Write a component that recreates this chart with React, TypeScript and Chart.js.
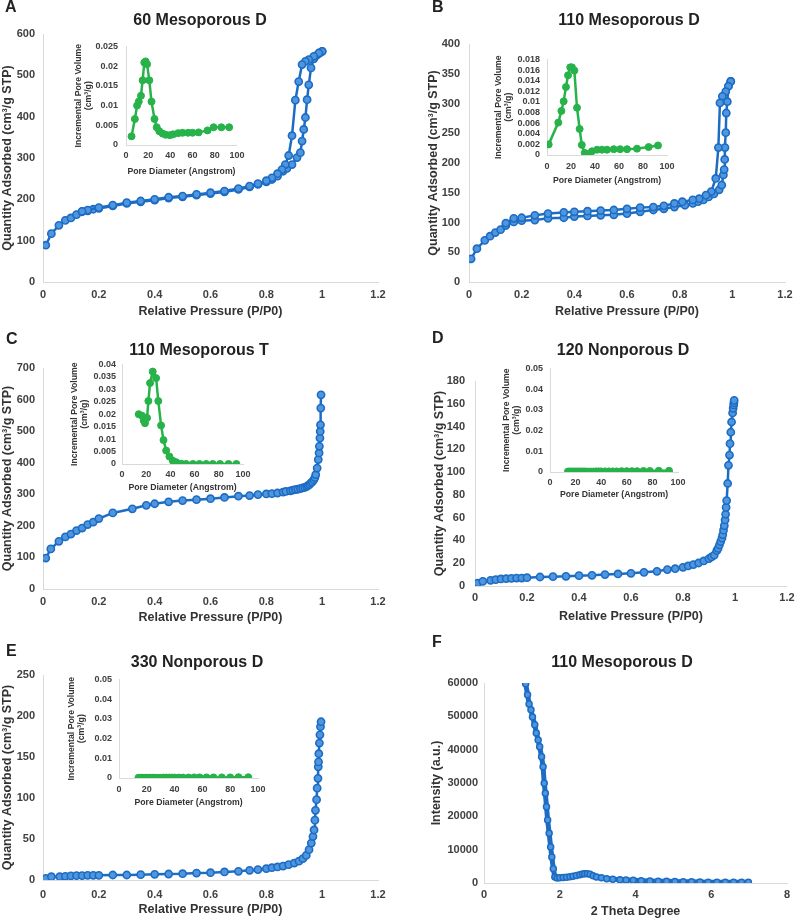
import React, { useEffect, useRef } from 'react';
import { Chart, registerables } from 'chart.js';
Chart.register(...registerables);

const FONT = '"Liberation Sans", Arial, Helvetica, sans-serif';
const BLUE = '#1c6cc4';
const BLUE_FILL = '#4f96de';
const GREEN = '#27b24a';
const AXIS = '#d9d9d9';
const TEXT = '#333333';

// ---------- Tick labels ----------
const P_TICKS = [0, 0.2, 0.4, 0.6, 0.8, 1, 1.2];
const PORE_TICKS = [0, 20, 40, 60, 80, 100];
const A_Y_TICKS = [0, 100, 200, 300, 400, 500, 600];
const B_Y_TICKS = [0, 50, 100, 150, 200, 250, 300, 350, 400];
const C_Y_TICKS = [0, 100, 200, 300, 400, 500, 600, 700];
const D_Y_TICKS = [0, 20, 40, 60, 80, 100, 120, 140, 160, 180];
const E_Y_TICKS = [0, 50, 100, 150, 200, 250];
const F_X_TICKS = [0, 2, 4, 6, 8];
const F_Y_TICKS = [0, 10000, 20000, 30000, 40000, 50000, 60000];
const A_IN_Y_TICKS = [0, 0.005, 0.01, 0.015, 0.02, 0.025];
const B_IN_Y_TICKS = [0, 0.002, 0.004, 0.006, 0.008, 0.01, 0.012, 0.014, 0.016, 0.018];
const C_IN_Y_TICKS = [0, 0.005, 0.01, 0.015, 0.02, 0.025, 0.03, 0.035, 0.04];
const DE_IN_Y_TICKS = [0, 0.01, 0.02, 0.03, 0.04, 0.05];

// ---------- A: 60 Mesoporous D ----------
const A_ADS_P = [0.01, 0.03, 0.057, 0.08, 0.1, 0.12, 0.14, 0.16, 0.18, 0.2, 0.25, 0.3, 0.35, 0.4, 0.45, 0.5, 0.55, 0.6, 0.65, 0.7, 0.74, 0.77, 0.8, 0.82, 0.84, 0.86, 0.874, 0.892, 0.91, 0.922, 0.928, 0.934, 0.94, 0.946, 0.952, 0.96, 0.97, 0.98, 0.99, 1.0];
const A_ADS_V = [89, 117, 137, 149, 155, 163, 170, 172, 176, 178, 184, 190, 194, 198, 203, 206, 210, 214, 218, 224, 230, 236, 242, 248, 256, 268, 275, 284, 301, 313, 341, 369, 398, 441, 477, 518, 540, 548, 553, 558];
const A_DES_P = [1.0, 0.988, 0.97, 0.952, 0.94, 0.928, 0.916, 0.904, 0.892, 0.88, 0.868, 0.856, 0.84, 0.82, 0.8, 0.77, 0.74, 0.7, 0.65, 0.6, 0.55, 0.5, 0.45, 0.4, 0.35, 0.3, 0.25, 0.2, 0.16, 0.14];
const A_DES_V = [558, 554, 546, 538, 534, 526, 485, 440, 354, 306, 284, 272, 262, 252, 245, 238, 232, 226, 220, 216, 212, 208, 205, 200, 196, 192, 186, 180, 174, 171];
const A_PORE_D = [5, 8, 10, 11.5, 13.5, 15, 16.5, 17.7, 19, 21, 23, 25.7, 27.7, 30, 33, 35.7, 39.5, 42.5, 47, 51, 56, 60, 65.5, 73.5, 79, 86, 93];
const A_PORE_V = [0.0022, 0.0066, 0.01, 0.011, 0.0125, 0.0164, 0.0209, 0.0212, 0.0205, 0.0164, 0.011, 0.0066, 0.0045, 0.0035, 0.0029, 0.0026, 0.0025, 0.0027, 0.003, 0.0031, 0.0031, 0.0031, 0.0032, 0.0037, 0.0045, 0.0045, 0.0045];

// ---------- B: 110 Mesoporous D ----------
const B_ADS_P = [0.008, 0.03, 0.06, 0.08, 0.1, 0.12, 0.14, 0.17, 0.2, 0.25, 0.3, 0.36, 0.4, 0.45, 0.5, 0.55, 0.6, 0.65, 0.7, 0.74, 0.78, 0.82, 0.85, 0.87, 0.89, 0.91, 0.93, 0.95, 0.96, 0.966, 0.969, 0.971, 0.972, 0.975, 0.977, 0.981, 0.985, 0.994];
const B_ADS_V = [39, 56, 70, 77, 83, 88, 95, 101, 103, 104, 107, 108, 110, 111, 112, 113, 115, 118, 121, 123, 126, 129, 132, 135, 138, 143, 148, 155, 163, 180, 189, 206, 226, 251, 284, 303, 329, 337];
const B_DES_P = [0.994, 0.985, 0.975, 0.962, 0.953, 0.947, 0.937, 0.92, 0.9, 0.874, 0.85, 0.81, 0.78, 0.74, 0.7, 0.65, 0.6, 0.55, 0.5, 0.45, 0.4, 0.36, 0.3, 0.25, 0.2, 0.17, 0.14];
const B_DES_V = [337, 329, 320, 312, 301, 226, 174, 152, 146, 140, 138, 135, 132, 128, 126, 125, 123, 121, 120, 119, 118, 117, 115, 112, 108, 107, 99];
const B_PORE_D = [1.4, 9.4, 12, 13.9, 15.8, 17.5, 19.4, 20.8, 22.8, 25, 27.2, 29, 31.4, 34.7, 37.5, 41.7, 45.8, 50, 55.6, 61, 66.7, 75, 84.7, 92.5];
const B_PORE_V = [0.002, 0.0061, 0.0083, 0.0101, 0.0128, 0.015, 0.0165, 0.0165, 0.0159, 0.0089, 0.0049, 0.0019, 0.0004, 0.0002, 0.0007, 0.001, 0.001, 0.001, 0.0011, 0.0011, 0.0011, 0.0012, 0.0015, 0.0018];

// ---------- C: 110 Mesoporous T ----------
const C_P = [0.01, 0.028, 0.057, 0.08, 0.1, 0.12, 0.14, 0.16, 0.18, 0.2, 0.25, 0.32, 0.37, 0.4, 0.45, 0.5, 0.55, 0.6, 0.65, 0.7, 0.74, 0.77, 0.8, 0.82, 0.84, 0.86, 0.87, 0.886, 0.895, 0.904, 0.913, 0.922, 0.93, 0.938, 0.945, 0.95, 0.955, 0.96, 0.965, 0.97, 0.974, 0.977, 0.982, 0.986, 0.989, 0.99, 0.992, 0.993, 0.994, 0.995, 0.996];
const C_V = [98, 127, 151, 165, 174, 185, 193, 204, 212, 223, 241, 254, 265, 270, 276, 280, 283, 286, 290, 294, 296, 299, 301, 302, 304, 307, 309, 311, 313, 315, 316, 318, 320, 322, 325, 328, 331, 336, 340, 346, 353, 362, 383, 410, 431, 452, 478, 499, 520, 573, 615];
const C_PORE_D = [13.8, 16.6, 18, 19, 20.7, 21.8, 23.2, 25.4, 28.2, 30, 32.3, 34.3, 36.5, 39.2, 42, 44.8, 49, 53, 58.6, 64, 69.6, 75, 81, 88, 94.5];
const C_PORE_V = [0.02, 0.0194, 0.0174, 0.0164, 0.0185, 0.0253, 0.0325, 0.0371, 0.0345, 0.0253, 0.0155, 0.0096, 0.0054, 0.003, 0.0013, 0.0007, 0.0001, 0, 0, 0, 0, 0, 0, 0, 0];

// ---------- D: 120 Nonporous D ----------
const D_P = [0.01, 0.03, 0.06, 0.08, 0.1, 0.12, 0.14, 0.16, 0.18, 0.2, 0.25, 0.3, 0.35, 0.4, 0.45, 0.5, 0.55, 0.6, 0.65, 0.7, 0.74, 0.77, 0.8, 0.82, 0.84, 0.86, 0.88, 0.9, 0.91, 0.92, 0.93, 0.935, 0.94, 0.945, 0.95, 0.953, 0.956, 0.959, 0.962, 0.964, 0.966, 0.968, 0.972, 0.975, 0.979, 0.981, 0.984, 0.987, 0.991, 0.993, 0.995, 0.996, 0.997];
const D_V = [2.6, 4.1, 5, 5.6, 6.2, 6.4, 6.7, 7, 7, 7.3, 7.9, 8.2, 8.5, 9.1, 9.4, 10, 10.6, 11.1, 12, 12.9, 14.4, 15.2, 16.4, 17.6, 18.8, 20.2, 22, 24, 25.5, 27, 31, 33, 36, 39, 42, 45, 49, 53, 58, 63, 69, 75, 90, 106, 115, 125, 135, 144, 152, 156, 159, 161, 163];
const D_PORE_D = [14, 15, 16, 17, 18, 19, 20, 21, 22, 23, 24, 25, 26, 27, 28, 30, 32, 34, 36, 38, 40, 43, 46, 49, 52, 56, 60, 64, 68, 73, 78, 85, 93];
const D_PORE_V = [0.0002, 0.0002, 0.0002, 0.0002, 0.0002, 0.0002, 0.0002, 0.0002, 0.0002, 0.0002, 0.0002, 0.0002, 0.0002, 0.0002, 0.0002, 0.0002, 0.0002, 0.0002, 0.0003, 0.0003, 0.0003, 0.0003, 0.0003, 0.0003, 0.0003, 0.0004, 0.0004, 0.0004, 0.0004, 0.0005, 0.0005, 0.0006, 0.0006];

// ---------- E: 330 Nonporous D ----------
const E_P = [0.01, 0.03, 0.06, 0.08, 0.1, 0.12, 0.14, 0.16, 0.18, 0.2, 0.25, 0.3, 0.35, 0.4, 0.45, 0.5, 0.55, 0.6, 0.65, 0.7, 0.74, 0.77, 0.8, 0.82, 0.84, 0.86, 0.88, 0.9, 0.917, 0.931, 0.943, 0.953, 0.961, 0.967, 0.971, 0.974, 0.976, 0.98, 0.982, 0.985, 0.986, 0.987, 0.988, 0.99, 0.992, 0.994, 0.996];
const E_V = [2, 4, 4, 4.5, 5, 5.3, 5.3, 5.7, 5.7, 5.7, 6.1, 6.1, 6.5, 6.9, 7.3, 7.7, 8.5, 8.9, 9.8, 10.6, 11.8, 12.6, 13.8, 15, 15.9, 17, 18.7, 20.7, 23, 26, 30, 37, 45, 53, 61, 73, 85, 98, 112, 124, 138, 144, 154, 167, 177, 187, 193];
const E_PORE_D = [14, 15, 16, 17, 18, 19, 20, 21, 22, 23, 24, 25, 26, 28, 30, 32, 34, 36, 38, 40, 43, 46, 50, 54, 58, 63, 68, 74, 80, 86, 93];
const E_PORE_V = [0.0001, 0.0001, 0.0001, 0.0001, 0.0001, 0.0001, 0.0001, 0.0001, 0.0001, 0.0001, 0.0001, 0.0001, 0.0001, 0.0001, 0.0001, 0.0002, 0.0002, 0.0002, 0.0002, 0.0002, 0.0002, 0.0002, 0.0002, 0.0003, 0.0003, 0.0003, 0.0003, 0.0003, 0.0003, 0.0004, 0.0004];

// ---------- F: 110 Mesoporous D, XRD ----------
const F_THETA = [1.1, 1.15, 1.19, 1.24, 1.28, 1.34, 1.38, 1.43, 1.47, 1.52, 1.56, 1.59, 1.62, 1.65, 1.68, 1.72, 1.76, 1.79, 1.83, 1.87, 1.93, 2.0, 2.09, 2.18, 2.27, 2.35, 2.44, 2.53, 2.6, 2.66, 2.73, 2.8, 2.88, 2.97, 3.1, 3.24, 3.4, 3.59, 3.75, 3.94, 4.15, 4.38, 4.6, 4.82, 5.04, 5.26, 5.48, 5.7, 5.92, 6.15, 6.37, 6.59, 6.8, 6.98];
const F_INT = [59800, 56500, 53700, 52000, 49800, 47500, 45000, 42900, 40900, 37900, 34900, 29900, 26900, 22900, 18900, 14900, 10800, 7800, 4300, 1800, 1500, 1600, 1650, 1700, 1850, 2000, 2250, 2500, 2700, 2800, 2750, 2600, 2200, 1800, 1550, 1300, 1150, 1000, 900, 800, 700, 600, 550, 500, 450, 400, 350, 300, 250, 200, 200, 200, 200, 200];

const Y_MAIN = 'Quantity Adsorbed (cm\u00B3/g STP)';
const X_MAIN = 'Relative Pressure (P/P0)';
const Y_INSET = ['Incremental Pore Volume', '(cm\u00B3/g)'];
const X_INSET = 'Pore Diameter (Angstrom)';

const zip = (xs: number[], ys: number[]) => xs.map((x, i) => ({ x, y: ys[i] }));
const fmt = (v: number) => String(parseFloat(Number(v).toFixed(5)));

type Series = { data: { x: number; y: number }[]; kind: 'main' | 'inset' | 'xrd' };
type Spec = {
  canvas: number[];
  area: number[];
  xRange: number[];
  yRange: number[];
  xTicks: number[];
  yTicks: number[];
  xTitle: string;
  yTitle: string | string[];
  yTickRight: number;
  xTickY: number;
  yTitleX: number;
  xTitleY: number;
  series: Series[];
  inset?: boolean;
  letter?: string;
  letterPos?: number[];
  title?: string;
  titlePos?: number[];
};

const panelText = {
  id: 'panelText',
  afterDraw(chart: any, _args: any, opts: any) {
    if (!opts || !opts.letter) return;
    const ctx = chart.ctx;
    ctx.save();
    ctx.fillStyle = '#222222';
    ctx.textBaseline = 'middle';
    ctx.font = `bold 16px ${FONT}`;
    ctx.textAlign = 'left';
    ctx.fillText(opts.letter, opts.lx, opts.ly);
    ctx.font = `bold 16px ${FONT}`;
    ctx.textAlign = 'center';
    ctx.fillText(opts.title, opts.tx, opts.ty);
    ctx.restore();
  },
};

function dataset(s: Series) {
  if (s.kind === 'inset') {
    return {
      data: s.data, borderColor: GREEN, borderWidth: 2.5, pointRadius: 3.5,
      pointBackgroundColor: GREEN, pointBorderColor: GREEN, pointBorderWidth: 1,
      tension: 0, showLine: true,
    };
  }
  if (s.kind === 'xrd') {
    return {
      data: s.data, borderColor: BLUE, borderWidth: 5, pointRadius: 3,
      pointBackgroundColor: BLUE_FILL, pointBorderColor: BLUE, pointBorderWidth: 1.5,
      tension: 0, showLine: true,
    };
  }
  return {
    data: s.data, borderColor: BLUE, borderWidth: 2.5, pointRadius: 3.6,
    pointBackgroundColor: BLUE_FILL, pointBorderColor: BLUE, pointBorderWidth: 1.6,
    tension: 0, showLine: true,
  };
}

function buildConfig(p: Spec): any {
  const [cx, cy, cw, ch] = p.canvas;
  const [L, T, R, B] = p.area;
  const tickSize = p.inset ? 9 : 11;
  const titleSize = p.inset ? 8.7 : 12.5;
  const titleLH = p.inset ? 1.15 : 1.1;
  const tickLH = tickSize * 1.2;
  const tLH = titleSize * titleLH;
  const tickFont = { family: FONT, size: tickSize, weight: 'bold', lineHeight: 1.2 };
  const titleFont = { family: FONT, size: titleSize, weight: 'bold', lineHeight: titleLH };
  const yTitlePad = Math.max(0, p.yTitleX - cx - tLH / 2);
  const xTitlePad = Math.max(0, cy + ch - p.xTitleY - tLH / 2);
  return {
    type: 'line',
    data: { datasets: p.series.map(dataset) },
    plugins: [panelText],
    options: {
      responsive: false,
      animation: false,
      devicePixelRatio: 1,
      events: [],
      layout: { padding: { left: 0, top: T - cy, right: cx + cw - R, bottom: 0 } },
      plugins: {
        legend: { display: false },
        tooltip: { enabled: false },
        panelText: p.letter
          ? {
              letter: p.letter,
              lx: p.letterPos![0] - cx,
              ly: p.letterPos![1] - cy,
              title: p.title,
              tx: p.titlePos![0] - cx,
              ty: p.titlePos![1] - cy,
            }
          : {},
      },
      scales: {
        x: {
          type: 'linear',
          min: p.xRange[0],
          max: p.xRange[1],
          afterBuildTicks: (s: any) => { s.ticks = p.xTicks.map((v) => ({ value: v })); },
          afterFit: (s: any) => { s.height = cy + ch - B; },
          grid: { display: false, drawTicks: false, tickLength: 0 },
          border: { display: true, color: AXIS, width: 1 },
          ticks: {
            font: tickFont, color: '#404040', padding: p.xTickY - B - tickLH / 2,
            maxRotation: 0, autoSkip: false, callback: (v: any) => fmt(v),
          },
          title: { display: true, text: p.xTitle, font: titleFont, color: TEXT, padding: { top: 0, bottom: xTitlePad } },
        },
        y: {
          type: 'linear',
          min: p.yRange[0],
          max: p.yRange[1],
          afterBuildTicks: (s: any) => { s.ticks = p.yTicks.map((v) => ({ value: v })); },
          afterFit: (s: any) => { s.width = L - cx; },
          grid: { display: false, drawTicks: false, tickLength: 0 },
          border: { display: true, color: AXIS, width: 1 },
          ticks: {
            font: tickFont, color: '#404040', padding: L - p.yTickRight,
            autoSkip: false, callback: (v: any) => fmt(v),
          },
          title: { display: true, text: p.yTitle, font: titleFont, color: TEXT, padding: { top: yTitlePad, bottom: 0 } },
        },
      },
    },
  };
}

const PANELS: Spec[] = [
  {
    canvas: [0, 0, 400, 322], area: [43, 34, 378, 282], xRange: [0, 1.2], yRange: [0, 600],
    xTicks: P_TICKS, yTicks: A_Y_TICKS, xTitle: X_MAIN, yTitle: Y_MAIN,
    yTickRight: 35, xTickY: 295, yTitleX: 8, xTitleY: 312,
    series: [{ data: zip(A_DES_P, A_DES_V), kind: 'main' }, { data: zip(A_ADS_P, A_ADS_V), kind: 'main' }],
    letter: 'A', letterPos: [5, 8], title: '60 Mesoporous D', titlePos: [200, 21],
  },
  {
    canvas: [400, 0, 400, 322], area: [469, 44, 785, 282], xRange: [0, 1.2], yRange: [0, 400],
    xTicks: P_TICKS, yTicks: B_Y_TICKS, xTitle: X_MAIN, yTitle: Y_MAIN,
    yTickRight: 460, xTickY: 295, yTitleX: 434, xTitleY: 312,
    series: [{ data: zip(B_DES_P, B_DES_V), kind: 'main' }, { data: zip(B_ADS_P, B_ADS_V), kind: 'main' }],
    letter: 'B', letterPos: [432, 8], title: '110 Mesoporous D', titlePos: [629, 21],
  },
  {
    canvas: [0, 322, 400, 305], area: [43, 368, 378, 589], xRange: [0, 1.2], yRange: [0, 700],
    xTicks: P_TICKS, yTicks: C_Y_TICKS, xTitle: X_MAIN, yTitle: Y_MAIN,
    yTickRight: 35, xTickY: 602, yTitleX: 8, xTitleY: 618,
    series: [{ data: zip(C_P, C_V), kind: 'main' }],
    letter: 'C', letterPos: [6, 340], title: '110 Mesoporous T', titlePos: [199, 351],
  },
  {
    canvas: [400, 322, 400, 305], area: [475, 381, 793, 586], xRange: [0, 1.2], yRange: [0, 180],
    xTicks: P_TICKS, yTicks: D_Y_TICKS, xTitle: X_MAIN, yTitle: Y_MAIN,
    yTickRight: 465, xTickY: 598, yTitleX: 440, xTitleY: 617,
    series: [{ data: zip(D_P, D_V), kind: 'main' }],
    letter: 'D', letterPos: [432, 339], title: '120 Nonporous D', titlePos: [623, 351],
  },
  {
    canvas: [0, 627, 400, 292], area: [43, 675, 378, 880], xRange: [0, 1.2], yRange: [0, 250],
    xTicks: P_TICKS, yTicks: E_Y_TICKS, xTitle: X_MAIN, yTitle: Y_MAIN,
    yTickRight: 35, xTickY: 895, yTitleX: 8, xTitleY: 910,
    series: [{ data: zip(E_P, E_V), kind: 'main' }],
    letter: 'E', letterPos: [6, 652], title: '330 Nonporous D', titlePos: [197, 663],
  },
  {
    canvas: [400, 627, 400, 292], area: [484, 683, 787, 883], xRange: [0, 8], yRange: [0, 60000],
    xTicks: F_X_TICKS, yTicks: F_Y_TICKS, xTitle: '2 Theta Degree', yTitle: 'Intensity (a.u.)',
    yTickRight: 478, xTickY: 895, yTitleX: 437, xTitleY: 912,
    series: [{ data: zip(F_THETA, F_INT), kind: 'xrd' }],
    letter: 'F', letterPos: [432, 643], title: '110 Mesoporous D', titlePos: [622, 663],
  },
  // insets
  {
    canvas: [68, 33, 182, 150], area: [126, 43, 238, 145], xRange: [0, 100], yRange: [0, 0.025],
    xTicks: PORE_TICKS, yTicks: A_IN_Y_TICKS, xTitle: X_INSET, yTitle: Y_INSET,
    yTickRight: 118, xTickY: 156, yTitleX: 79, xTitleY: 172, inset: true,
    series: [{ data: zip(A_PORE_D, A_PORE_V), kind: 'inset' }],
  },
  {
    canvas: [488, 47, 200, 145], area: [547, 57, 667, 155], xRange: [0, 100], yRange: [0, 0.018],
    xTicks: PORE_TICKS, yTicks: B_IN_Y_TICKS, xTitle: X_INSET, yTitle: Y_INSET,
    yTickRight: 540, xTickY: 167, yTitleX: 499, xTitleY: 181, inset: true,
    series: [{ data: zip(B_PORE_D, B_PORE_V), kind: 'inset' }],
  },
  {
    canvas: [64, 353, 200, 148], area: [122, 363, 243, 464], xRange: [0, 100], yRange: [0, 0.04],
    xTicks: PORE_TICKS, yTicks: C_IN_Y_TICKS, xTitle: X_INSET, yTitle: Y_INSET,
    yTickRight: 116, xTickY: 475, yTitleX: 75, xTitleY: 488, inset: true,
    series: [{ data: zip(C_PORE_D, C_PORE_V), kind: 'inset' }],
  },
  {
    canvas: [496, 356, 204, 152], area: [550, 366, 678, 472], xRange: [0, 100], yRange: [0, 0.05],
    xTicks: PORE_TICKS, yTicks: DE_IN_Y_TICKS, xTitle: X_INSET, yTitle: Y_INSET,
    yTickRight: 543, xTickY: 483, yTitleX: 507, xTitleY: 495, inset: true,
    series: [{ data: zip(D_PORE_D, D_PORE_V), kind: 'inset' }],
  },
  {
    canvas: [62, 667, 218, 150], area: [119, 677, 258, 778], xRange: [0, 100], yRange: [0, 0.05],
    xTicks: PORE_TICKS, yTicks: DE_IN_Y_TICKS, xTitle: X_INSET, yTitle: Y_INSET,
    yTickRight: 112, xTickY: 790, yTitleX: 72, xTitleY: 803, inset: true,
    series: [{ data: zip(E_PORE_D, E_PORE_V), kind: 'inset' }],
  },
];

function ChartCanvas({ spec }: { spec: Spec }) {
  const ref = useRef<HTMLCanvasElement | null>(null);
  useEffect(() => {
    if (!ref.current) return;
    const chart = new Chart(ref.current, buildConfig(spec));
    return () => chart.destroy();
  }, [spec]);
  const [x, y, w, h] = spec.canvas;
  return (
    <canvas
      ref={ref}
      width={w}
      height={h}
      style={{ position: 'absolute', left: x, top: y, width: w, height: h, zIndex: spec.inset ? 2 : 1 }}
    />
  );
}

export default function App() {
  return (
    <div style={{ position: 'absolute', left: 0, top: 0, width: 800, height: 919, background: '#ffffff', overflow: 'hidden' }}>
      {PANELS.map((p, i) => (
        <ChartCanvas key={i} spec={p} />
      ))}
    </div>
  );
}
